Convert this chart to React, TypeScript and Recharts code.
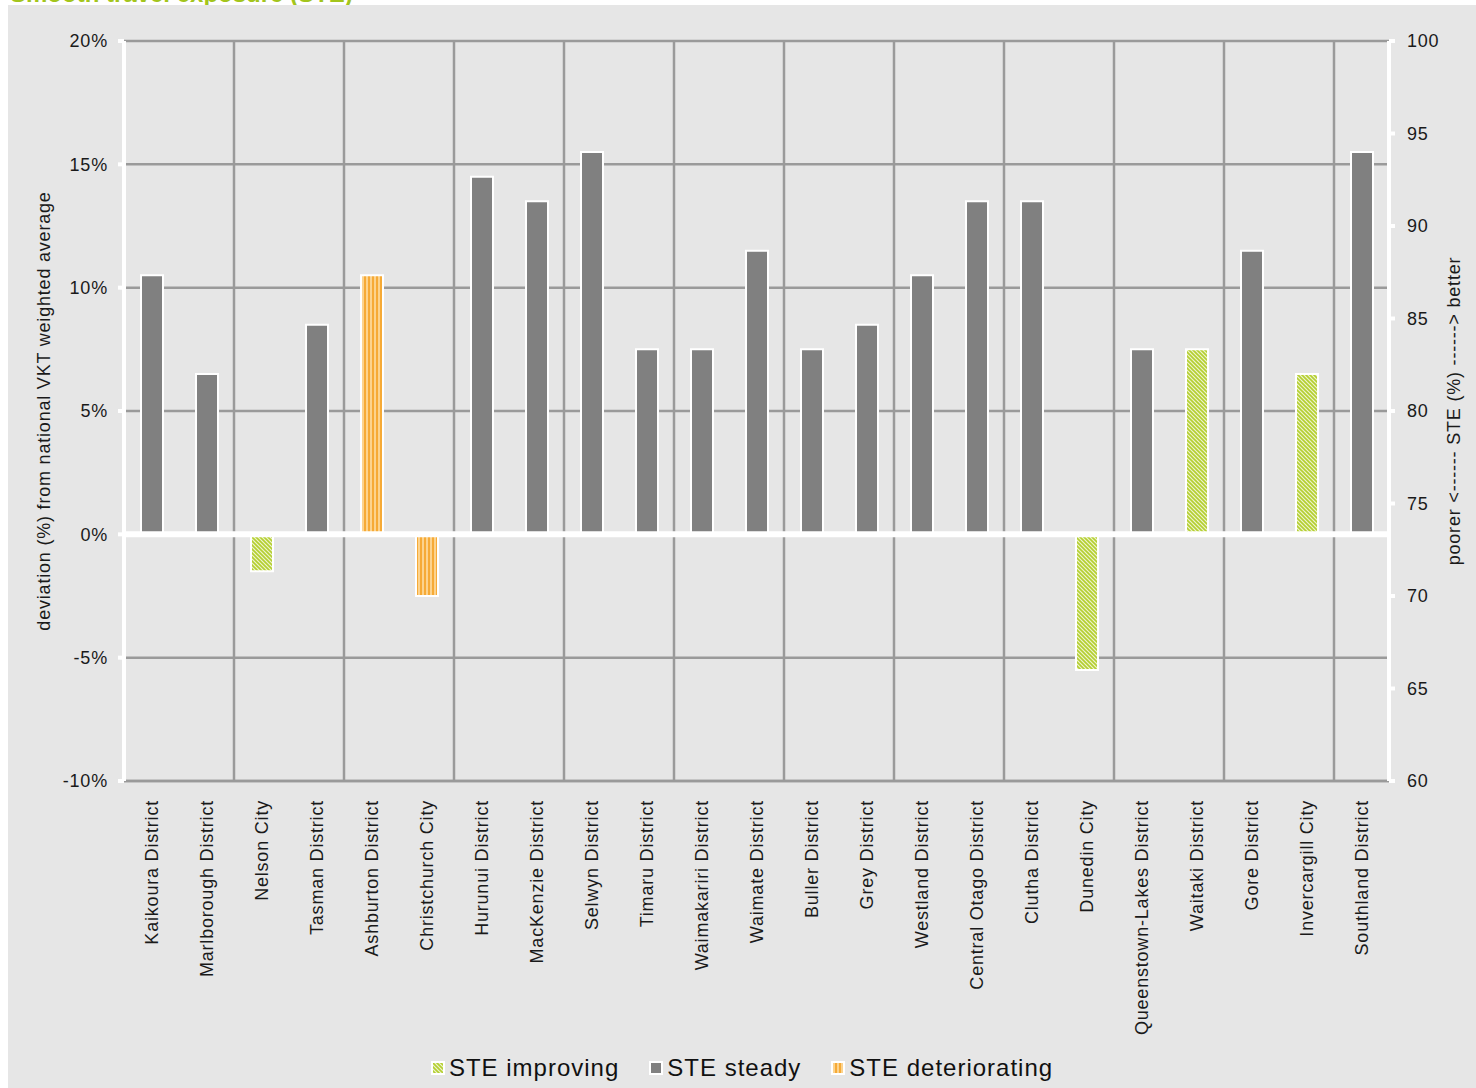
import { BarChart, Bar, XAxis, YAxis, CartesianGrid, Legend, ReferenceLine } from 'recharts';

const districts = [
  'Kaikoura District', 'Marlborough District', 'Nelson City', 'Tasman District',
  'Ashburton District', 'Christchurch City', 'Hurunui District', 'MacKenzie District',
  'Selwyn District', 'Timaru District', 'Waimakariri District', 'Waimate District',
  'Buller District', 'Grey District', 'Westland District', 'Central Otago District',
  'Clutha District', 'Dunedin City', 'Queenstown-Lakes District', 'Waitaki District',
  'Gore District', 'Invercargill City', 'Southland District',
];

const deviation = [
  10.5, 6.5, -1.5, 8.5, 10.5, -2.5, 14.5, 13.5, 15.5, 7.5, 7.5, 11.5,
  7.5, 8.5, 10.5, 13.5, 13.5, -5.5, 7.5, 7.5, 11.5, 6.5, 15.5,
];

const trend = [
  'steady', 'steady', 'improving', 'steady', 'deteriorating', 'deteriorating',
  'steady', 'steady', 'steady', 'steady', 'steady', 'steady', 'steady', 'steady',
  'steady', 'steady', 'steady', 'improving', 'steady', 'improving', 'steady',
  'improving', 'steady',
];

const leftTicks = [-10, -5, 0, 5, 10, 15, 20];
const rightTicks = [60, 65, 70, 75, 80, 85, 90, 95, 100];

const series = [
  { key: 'improving', label: 'STE improving', fill: 'url(#stripeGreen)' },
  { key: 'steady', label: 'STE steady', fill: '#808080' },
  { key: 'deteriorating', label: 'STE deteriorating', fill: 'url(#stripeOrange)' },
];

const data = districts.map((name, i) => ({
  name,
  improving: trend[i] === 'improving' ? deviation[i] : null,
  steady: trend[i] === 'steady' ? deviation[i] : null,
  deteriorating: trend[i] === 'deteriorating' ? deviation[i] : null,
}));

const FONT = '"Liberation Sans", Arial, sans-serif';
const textStyle = { fontSize: 18, fill: '#1a1a1a', fontFamily: FONT, letterSpacing: 0.8 };

function CategoryTick(props: any) {
  const { x, y, payload } = props;
  return (
    <text
      transform={`translate(${x},${y + 11}) rotate(-90)`}
      textAnchor="end"
      dominantBaseline="central"
      {...textStyle}
    >
      {payload.value}
    </text>
  );
}

function LegendContent() {
  return (
    <div style={{ display: 'flex', justifyContent: 'center', gap: 30, fontSize: 24, letterSpacing: 1, color: '#111', fontFamily: FONT, height: 30, alignItems: 'center' }}>
      {series.map(s => (
        <div key={s.key} style={{ display: 'flex', alignItems: 'center', gap: 4 }}>
          <svg width={14} height={14}>
            <rect x={1} y={1} width={12} height={12} fill={s.fill} stroke="#fff" strokeWidth={2} />
          </svg>
          <span>{s.label}</span>
        </div>
      ))}
    </div>
  );
}

// grid lines fall between every second district
const gridX = ({ offset }: any) => {
  const step = offset.width / districts.length;
  const out: number[] = [];
  for (let k = 2; k < districts.length; k += 2) out.push(offset.left + step * k);
  return out;
};

export default function App() {
  return (
    <div style={{ position: 'relative', width: 1476, height: 1088, background: '#fff', overflow: 'hidden' }}>
      <style>{'body{margin:0;overflow:hidden}'}</style>
      <div style={{ position: 'absolute', left: 10, top: -20, color: '#a3c51c', fontFamily: FONT, fontWeight: 'bold', fontSize: 24 }}>
        Smooth travel exposure (STE)
      </div>
      <div style={{ position: 'absolute', left: 8, top: 5, width: 1468, height: 1083, background: '#e6e6e6' }}>
        <BarChart
          width={1468}
          height={1083}
          data={data}
          margin={{ top: 36, right: 0, bottom: 5, left: 0 }}
          barSize={22}
          stackOffset="sign"
          style={{ fontFamily: FONT }}
        >
          <defs>
            <pattern id="stripeGreen" patternUnits="userSpaceOnUse" width={4} height={4}>
              <rect width={4} height={4} fill="#eef3cf" />
              <path d="M-1,-1 L5,5 M-1,3 L1,5 M3,-1 L5,1" stroke="#b4cf2f" strokeWidth={1.6} />
            </pattern>
            <pattern id="stripeOrange" patternUnits="userSpaceOnUse" width={4} height={4}>
              <rect width={4} height={4} fill="#fcd38e" />
              <rect width={2} height={4} fill="#f6aa36" />
            </pattern>
          </defs>
          <CartesianGrid
            yAxisId="left"
            stroke="#9a9a9a"
            strokeWidth={2.5}
            verticalCoordinatesGenerator={gridX}
            fill="none"
          />
          <XAxis
            dataKey="name"
            interval={0}
            height={272}
            tick={<CategoryTick />}
            tickLine={false}
            axisLine={{ stroke: '#9a9a9a', strokeWidth: 2.5 }}
          />
          <YAxis
            yAxisId="left"
            width={116}
            domain={[-10, 20]}
            ticks={leftTicks}
            interval={0}
            tickFormatter={(v: number) => `${v}%`}
            tick={textStyle}
            tickSize={6}
            tickMargin={10}
            tickLine={{ stroke: '#fff', strokeWidth: 4 }}
            axisLine={{ stroke: '#fff', strokeWidth: 4 }}
            label={{ value: 'deviation (%) from national VKT weighted average', angle: -90, position: 'insideLeft', offset: 36, style: { ...textStyle, textAnchor: 'middle' } }}
          />
          <YAxis
            yAxisId="right"
            orientation="right"
            type="number"
            width={87}
            domain={[60, 100]}
            allowDataOverflow
            ticks={rightTicks}
            interval={0}
            tick={{ ...textStyle, textAnchor: 'start' }}
            tickSize={6}
            tickMargin={12}
            tickLine={{ stroke: '#fff', strokeWidth: 4 }}
            axisLine={{ stroke: '#fff', strokeWidth: 4 }}
            label={{ value: 'poorer <------ STE (%) ------> better', angle: -90, position: 'insideRight', offset: 22, style: { ...textStyle, textAnchor: 'middle' } }}
          />
          <ReferenceLine yAxisId="left" y={0} stroke="#fff" strokeWidth={6} />
          {series.map(s => (
            <Bar
              key={s.key}
              yAxisId="left"
              dataKey={s.key}
              name={s.label}
              stackId="ste"
              fill={s.fill}
              stroke="#fff"
              strokeWidth={2}
              isAnimationActive={false}
            />
          ))}
          <Legend verticalAlign="bottom" content={<LegendContent />} wrapperStyle={{ left: 0, width: 1468 }} />
        </BarChart>
      </div>
    </div>
  );
}
